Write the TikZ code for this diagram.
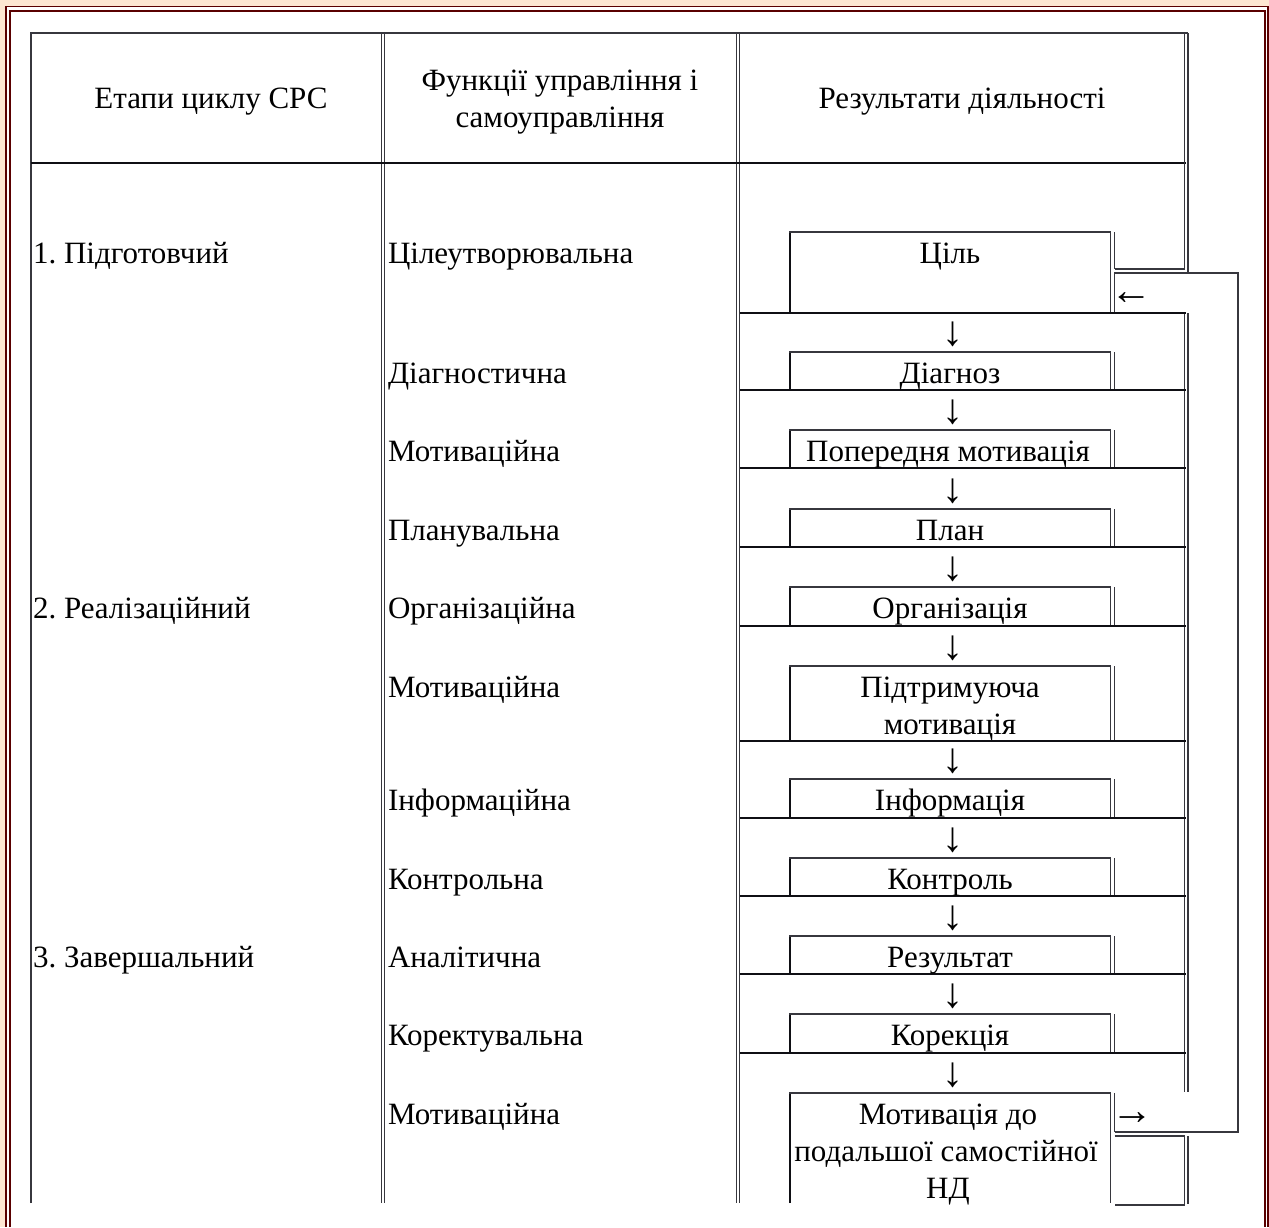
\documentclass[tikz,border=0pt]{standalone}
\usepackage{fontspec}
\setmainfont{Liberation Serif}
\definecolor{peach}{RGB}{253,231,210}
\definecolor{framec}{RGB}{90,0,0}
\definecolor{gridc}{RGB}{55,55,62}
\definecolor{heavyc}{RGB}{15,15,20}
\frenchspacing
\begin{document}
\begin{tikzpicture}[x=1pt,y=-1pt,
  lbl/.style={inner sep=0pt, outer sep=0pt, font=\fontsize{31}{37}\selectfont},
  cl/.style={lbl, anchor=base west},
  cc/.style={lbl, anchor=base},
  arr/.style={inner sep=0pt, outer sep=0pt, anchor=base, font=\fontsize{42}{42}\selectfont},
  grid/.style={draw=gridc, line width=1.4pt},
  heavy/.style={draw=heavyc, line width=2.6pt},
  frame/.style={draw=framec, line width=1.9pt},
]
\useasboundingbox (0,0) rectangle (1269,1227);
\fill[peach] (0,0) rectangle (1269,1227);
\fill[white] (6,6.5) rectangle (1269,1227);
\draw[frame] (6,1227) -- (6,6.5) -- (1268,6.5) -- (1268,1227);
\draw[frame] (10,1227) -- (10,11) -- (1265,11) -- (1265,1227);

% table frame and columns
\draw[grid] (31,1203) -- (31,33) -- (1188,33);
\draw[grid] (381.5,33) -- (381.5,1203);
\draw[grid] (384.5,33) -- (384.5,1203);
\draw[grid] (736.5,33) -- (736.5,1203);
\draw[grid] (739.5,33) -- (739.5,1203);
\draw[heavy] (31,163) -- (1186,163);
% right side and feedback loop
\draw[grid] (1114.5,269) -- (1184.5,269) -- (1184.5,33);
\draw[grid] (1188,33) -- (1188,273);
\draw[grid] (1114.5,313) -- (1114.5,273) -- (1238,273) -- (1238,1132) -- (1114.5,1132);
\draw[grid] (1184.5,313) -- (1184.5,1092);
\draw[grid] (1188,313) -- (1188,1092);
\draw[grid] (1114.5,1136) -- (1184.5,1136) -- (1184.5,1205) -- (1114.5,1205);
\draw[grid] (1188,1136) -- (1188,1204);

% result boxes
\foreach \t/\b in {232/313, 352/390, 430/468, 509/547, 587/626, 666/741, 779/818, 858/896, 936/974, 1014/1053, 1093/1203}{
  \draw[heavy] (790,\b) -- (790,\t);
  \draw[grid] (789,\t) -- (1110.5,\t) -- (1110.5,\b);
}
\foreach \t/\b in {352/390, 430/468, 509/547, 587/626, 666/741, 779/818, 858/896, 936/974, 1014/1053}{
  \draw[grid] (1114.5,\t) -- (1114.5,\b);
}
\draw[grid] (1114.5,232) -- (1114.5,269);
\draw[grid] (1114.5,1093) -- (1114.5,1132);
\foreach \b in {313, 390, 468, 547, 626, 741, 818, 896, 974, 1053}{
  \draw[heavy] (740,\b) -- (1186,\b);
}

% header
\node[cc] (h1) at (211,108) {Етапи циклу СРС};
\node[cc] (h2a) at (560,90) {Функції управління і};
\node[cc] (h2b) at (560,127) {самоуправління};
\node[cc] (h3) at (962,108) {Результати діяльності};

% stages
\node[cl] (s1) at (33,263) {1. Підготовчий};
\node[cl] (s2) at (33,618) {2. Реалізаційний};
\node[cl] (s3) at (33,967) {3. Завершальний};

% functions
\node[cl] (f1) at (388,263) {Цілеутворювальна};
\node[cl] (f2) at (388,383) {Діагностична};
\node[cl] (f3) at (388,461) {Мотиваційна};
\node[cl] (f4) at (388,540) {Планувальна};
\node[cl] (f5) at (388,618) {Організаційна};
\node[cl] (f6) at (388,697) {Мотиваційна};
\node[cl] (f7) at (388,810) {Інформаційна};
\node[cl] (f8) at (388,889) {Контрольна};
\node[cl] (f9) at (388,967) {Аналітична};
\node[cl] (f10) at (388,1045) {Коректувальна};
\node[cl] (f11) at (388,1124) {Мотиваційна};

% results
\node[cc] (r1) at (950,263) {Ціль};
\node[cc] (r2) at (950,383) {Діагноз};
\node[cc] (r3) at (948,461) {Попередня мотивація};
\node[cc] (r4) at (950,540) {План};
\node[cc] (r5) at (950,618) {Організація};
\node[cc] (r6a) at (950,697) {Підтримуюча};
\node[cc] (r6b) at (950,734) {мотивація};
\node[cc] (r7) at (950,810) {Інформація};
\node[cc] (r8) at (950,889) {Контроль};
\node[cc] (r9) at (950,967) {Результат};
\node[cc] (r10) at (950,1045) {Корекція};
\node[cc] (r11a) at (948,1124) {Мотивація до};
\node[cc] (r11b) at (946,1161) {подальшої самостійної};
\node[cc] (r11c) at (948,1198) {НД};

% arrow glyphs
\foreach \t [count=\i] in {352, 430, 509, 587, 666, 779, 858, 936, 1014, 1093}{
  \node[arr] (a\i) at (953,\t-7) {↓};
}
\node[arr] (back) at (1131,304) {←};
\node[arr] (fwd) at (1132,1124) {→};
\end{tikzpicture}
\end{document}
